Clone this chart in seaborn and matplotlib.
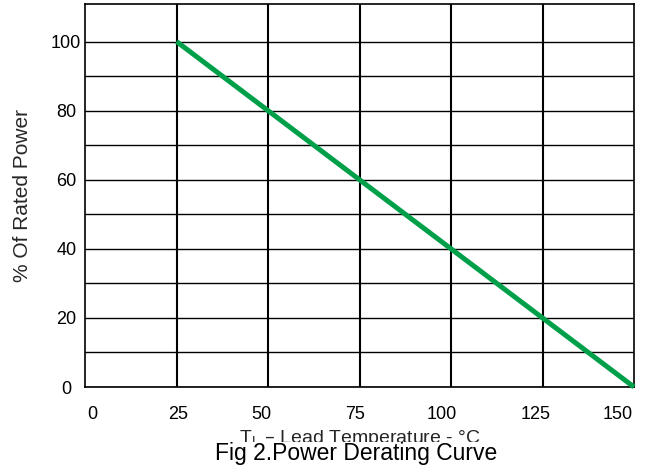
import matplotlib
matplotlib.use("Agg")
import matplotlib.pyplot as plt
import seaborn as sns
import pandas as pd

# data
temp = [25, 150]          # lead temperature, degC
power = [100, 0]          # % of rated power

x_labels = ["0", "25", "50", "75", "100", "125", "150"]
x_label_pos = [2, 25.4, 48.2, 73.9, 97.6, 123.0, 145.5]   # labels sit a bit off the grid in the original
x_grid = [25, 50, 75, 100, 125]
y_major = [0, 20, 40, 60, 80, 100]
y_minor = [10, 30, 50, 70, 90]

sns.set_theme(style="white")
plt.rcParams['font.family'] = ['Liberation Sans', 'DejaVu Sans']

df = pd.DataFrame({"temp": temp, "power": power})

fig = plt.figure(figsize=(6.5, 4.72), dpi=100)
ax = fig.add_axes([85/650, 1-387/472, 549/650, 383.5/472])

sns.lineplot(data=df, x="temp", y="power", color="#00a04a", linewidth=3.6,
             solid_capstyle="butt", ax=ax, zorder=5, clip_on=False)

ax.set_xlim(0, 150)
ax.set_ylim(0, 111)

# x: labels on major ticks, grid on minor ticks
ax.set_xticks(x_label_pos)
ax.set_xticklabels(x_labels)
ax.set_xticks(x_grid, minor=True)
ax.set_yticks(y_major)
ax.set_yticks(y_minor, minor=True)
ax.tick_params(axis="x", which="both", length=0, pad=14, labelsize=13, colors="black")
ax.tick_params(axis="y", which="both", length=0, pad=13.5, labelsize=13, colors="black")
for t in ax.get_yticklabels():
    t.set_horizontalalignment("center")

ax.grid(False)
ax.grid(axis="x", which="minor", color="black", linewidth=1.5)
ax.grid(axis="y", which="both", color="black", linewidth=1.0)

for s in ax.spines.values():
    s.set_color("black")
    s.set_linewidth(1.2)

ax.set_xlabel("T$_\\mathregular{L}$ – Lead Temperature - °C", fontsize=14)
ax.set_ylabel("% Of Rated Power", fontsize=15)
ax.xaxis.set_label_coords(0.5, -0.108)
ax.xaxis.label.set_verticalalignment("top")
ax.yaxis.set_label_coords(-0.097, 0.5)

# caption sits over the bottom of the x label like in the original
fig.text(356/650, 12/472, "Fig 2.Power Derating Curve", ha="center", va="baseline",
         fontsize=16.5, color="black",
         bbox=dict(facecolor="white", edgecolor="none", pad=0))

fig.savefig("out.png", dpi=100)
